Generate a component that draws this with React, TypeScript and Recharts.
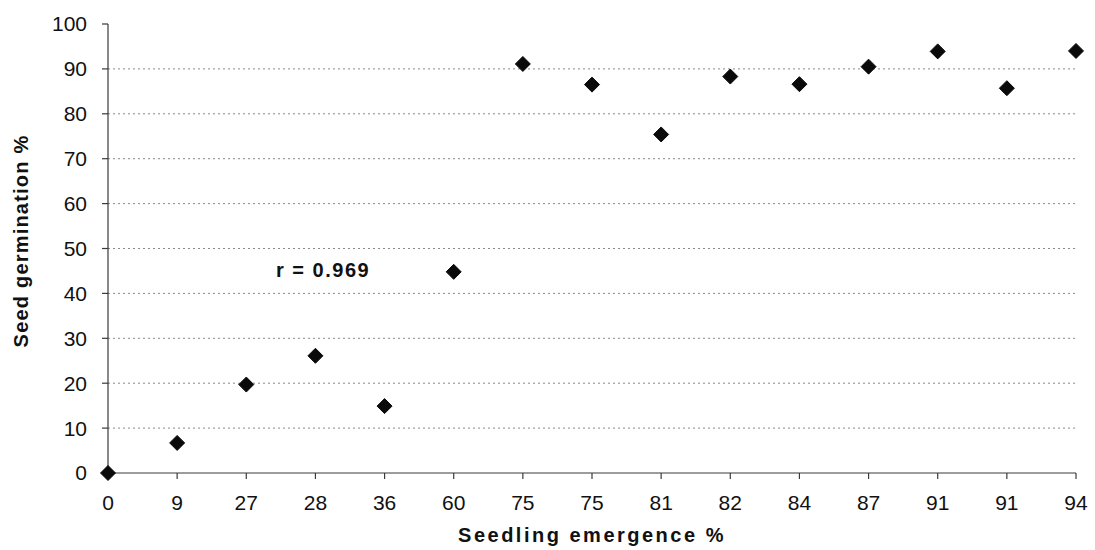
import { CartesianGrid, ReferenceLine, Scatter, ScatterChart, XAxis, YAxis } from 'recharts';

// seedling emergence (%) — category labels along x, in plotted order
const emergence = ['0', '9', '27', '28', '36', '60', '75', '75', '81', '82', '84', '87', '91', '91', '94'];
// seed germination (%)
const germination = [0, 6.7, 19.7, 26.1, 14.9, 44.8, 91.1, 86.5, 75.4, 88.3, 86.6, 90.5, 93.9, 85.7, 94];
const yTicks = [0, 10, 20, 30, 40, 50, 60, 70, 80, 90, 100];
const gridValues = [10, 20, 30, 40, 50, 60, 70, 80, 90];

const FONT = '"Liberation Sans", Arial, sans-serif';
const AXIS = '#3a3a3a';

const points = germination.map((g, i) => ({ idx: i, g }));

// rotated square marker like the Excel diamond
function Diamond(props: any) {
  const { cx, cy } = props;
  if (cx == null || cy == null) return null;
  const r = 7.5;
  return (
    <path
      d={`M${cx},${cy - r} L${cx + r},${cy} L${cx},${cy + r} L${cx - r},${cy} Z`}
      fill="#0a0a0a"
      stroke="#0a0a0a"
      strokeWidth={1}
      strokeLinejoin="round"
    />
  );
}

export default function App() {
  return (
    <div style={{ position: 'absolute', left: 0, top: 0, width: 1095, height: 550, background: '#fff', fontFamily: FONT }}>
      <ScatterChart width={1095} height={550} margin={{ top: 24, right: 19, bottom: 37, left: 0 }}>
        <CartesianGrid horizontal={false} vertical={false} />
        {gridValues.map((v) => (
          <ReferenceLine key={v} y={v} stroke="#8a8a8a" strokeWidth={1} strokeDasharray="2 3" />
        ))}
        <XAxis
          type="number"
          dataKey="idx"
          domain={[0, emergence.length - 1]}
          ticks={emergence.map((_, i) => i)}
          tickFormatter={(i: number) => emergence[i]}
          interval={0}
          allowDecimals={false}
          stroke={AXIS}
          strokeWidth={1.2}
          tickSize={6}
          tickMargin={16}
          tick={{ fill: '#111', fontSize: 21, fontFamily: FONT }}
          height={40}
        />
        <YAxis
          type="number"
          dataKey="g"
          domain={[0, 100]}
          ticks={yTicks}
          interval={0}
          width={108}
          stroke={AXIS}
          strokeWidth={1.2}
          tickSize={6}
          tickMargin={15}
          tick={{ fill: '#111', fontSize: 21, fontFamily: FONT }}
        />
        <Scatter data={points} shape={<Diamond />} isAnimationActive={false} />
      </ScatterChart>

      <div
        style={{
          position: 'absolute',
          left: 276,
          top: 258,
          fontSize: 20,
          fontWeight: 'bold',
          letterSpacing: 1.5,
          color: '#111',
          whiteSpace: 'nowrap',
          lineHeight: '24px',
        }}
      >
        r = 0.969
      </div>

      <div
        style={{
          position: 'absolute',
          left: 0,
          width: 1184,
          top: 522,
          textAlign: 'center',
          fontSize: 20,
          fontWeight: 'bold',
          letterSpacing: 2.5,
          color: '#111',
          whiteSpace: 'nowrap',
          lineHeight: '26px',
        }}
      >
        Seedling emergence %
      </div>

      <div
        style={{
          position: 'absolute',
          left: 21,
          top: 241,
          transform: 'translate(-50%, -50%) rotate(-90deg)',
          fontSize: 20,
          fontWeight: 'bold',
          letterSpacing: 1.2,
          color: '#111',
          whiteSpace: 'nowrap',
          lineHeight: '24px',
        }}
      >
        Seed germination %
      </div>
    </div>
  );
}
